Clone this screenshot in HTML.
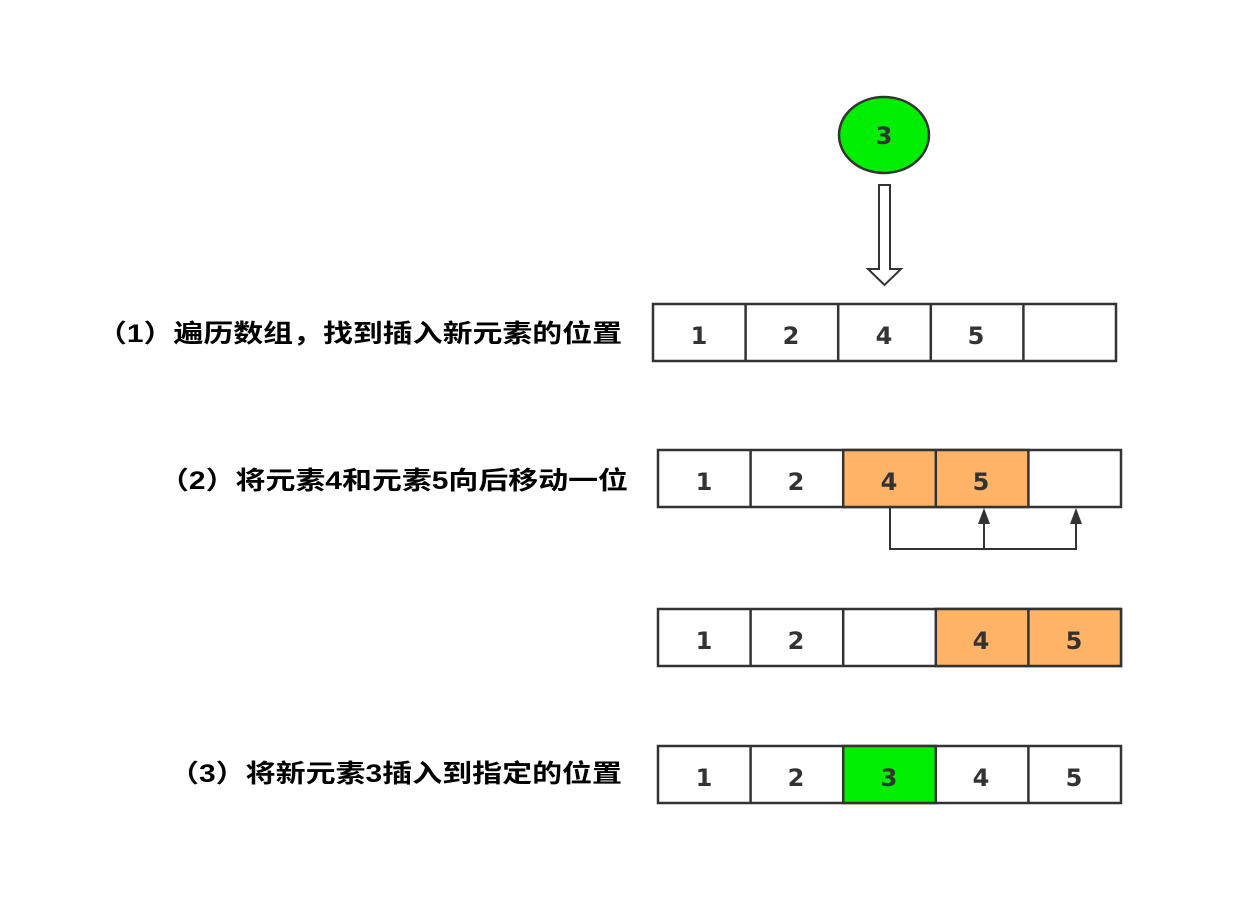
<!DOCTYPE html>
<html><head><meta charset="utf-8"><style>
html,body{margin:0;padding:0;background:#fff;}
svg{display:block}
</style></head><body>
<svg width="1256" height="917" viewBox="0 0 1256 917" xmlns="http://www.w3.org/2000/svg">
<rect width="1256" height="917" fill="#fff"/>
<g font-family="'Liberation Sans','Noto Sans CJK SC',sans-serif" font-weight="bold" fill="#000" font-size="25">
<text x="97" y="342" textLength="525" lengthAdjust="spacingAndGlyphs">（1）遍历数组，找到插入新元素的位置</text>
<text x="159" y="489" textLength="469" lengthAdjust="spacingAndGlyphs">（2）将元素4和元素5向后移动一位</text>
<text x="169" y="782" textLength="453" lengthAdjust="spacingAndGlyphs">（3）将新元素3插入到指定的位置</text>
</g>
<ellipse cx="884" cy="135" rx="45" ry="38" fill="#00ee00" stroke="#333" stroke-width="2.5"/>
<path d="M879,185 L890,185 L890,269 L901,269 L884.5,285 L868,269 L879,269 Z" fill="#fff" stroke="#333" stroke-width="2"/>
<g stroke="#333" stroke-width="2.5">
<rect x="653" y="304" width="463" height="57" fill="#fff"/>
<line x1="745.6" y1="304" x2="745.6" y2="361"/><line x1="838.2" y1="304" x2="838.2" y2="361"/><line x1="930.8" y1="304" x2="930.8" y2="361"/><line x1="1023.4" y1="304" x2="1023.4" y2="361"/>
<rect x="658" y="450" width="463" height="57" fill="#fff"/>
<rect x="843.2" y="450" width="185.2" height="57" fill="#ffb366"/>
<line x1="750.6" y1="450" x2="750.6" y2="507"/><line x1="935.8" y1="450" x2="935.8" y2="507"/>
<rect x="658" y="609" width="463" height="57" fill="#fff"/>
<rect x="935.8" y="609" width="185.2" height="57" fill="#ffb366"/>
<line x1="750.6" y1="609" x2="750.6" y2="666"/><line x1="843.2" y1="609" x2="843.2" y2="666"/><line x1="1028.4" y1="609" x2="1028.4" y2="666"/>
<rect x="658" y="746" width="463" height="57" fill="#fff"/>
<rect x="843.2" y="746" width="92.6" height="57" fill="#00ee00"/>
<line x1="750.6" y1="746" x2="750.6" y2="803"/><line x1="1028.4" y1="746" x2="1028.4" y2="803"/>
</g>
<g stroke="#333" stroke-width="2" fill="none">
<polyline points="890,507 890,549 1076,549 1076,522"/>
<line x1="984" y1="549" x2="984" y2="522"/>
</g>
<g fill="#333">
<polygon points="984,508 978,524 990,524"/>
<polygon points="1076,508 1070,524 1082,524"/>
</g>
<g font-family="'DejaVu Sans','Liberation Sans',sans-serif" font-weight="bold" fill="#333" font-size="24" text-anchor="middle">
<text x="884" y="144">3</text>
<text x="699" y="344">1</text><text x="791" y="344">2</text><text x="884" y="344">4</text><text x="976" y="344">5</text>
<text x="704" y="490">1</text><text x="796" y="490">2</text><text x="889" y="490">4</text><text x="981" y="490">5</text>
<text x="704" y="649">1</text><text x="796" y="649">2</text><text x="981" y="649">4</text><text x="1074" y="649">5</text>
<text x="704" y="786">1</text><text x="796" y="786">2</text><text x="889" y="786">3</text><text x="981" y="786">4</text><text x="1074" y="786">5</text>
</g>
</svg>
</body></html>
